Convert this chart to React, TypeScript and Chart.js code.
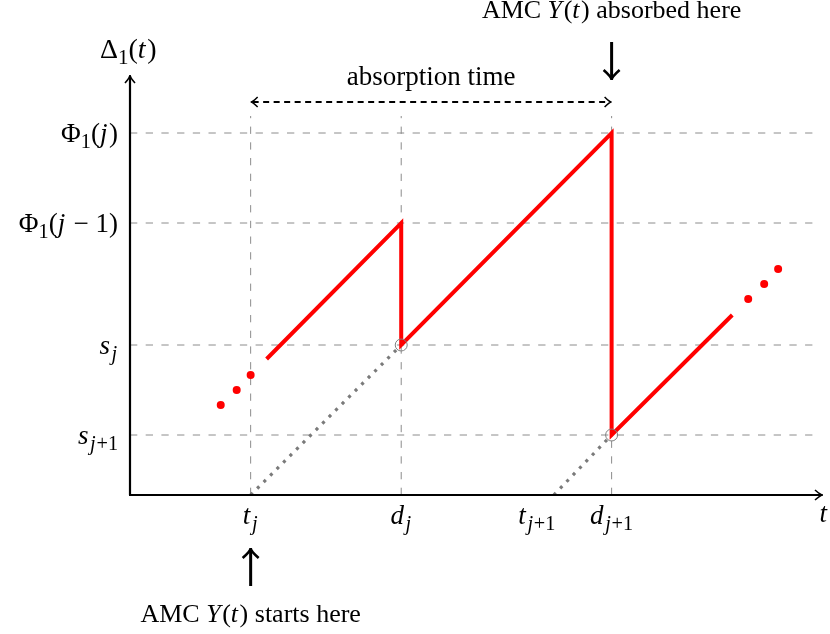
import React, { useEffect, useRef } from "react";
import { Chart, registerables } from "chart.js";

Chart.register(...registerables);

// ---- data (units: abstract time / level) ----
const X_MAX = 695;
const Y_MAX = 420;

const redPathX = [137, 272, 272, 483, 483, 604];
const redPathY = [136, 272, 150, 362, 60, 180];
const redDotsLeftX = [91, 107, 121];
const redDotsLeftY = [90, 105, 120];
const redDotsRightX = [620, 636, 650];
const redDotsRightY = [196, 211, 226];
const grayDot1X = [121, 272];
const grayDot1Y = [0, 150];
const grayDot2X = [425, 483];
const grayDot2Y = [0, 60];
const circleX = [272, 483];
const circleY = [150, 60];

const yTickValues = [362, 272, 150, 60];
const xTickValues = [121, 272, 408, 483];
const xGuideValues = [121, 272, 483];
const guideTop = 379;
const absorptionFrom = 121;
const absorptionTo = 483;
const absorptionLevel = 393;
const startMarkX = 121;
const absorbedMarkX = 483;

type Tok = [string, string];
const yTickLabels: Tok[][] = [
  [["Φ", "r"], ["1", "sr"], ["(", "r"], ["j", "i"], [")", "r"]],
  [["Φ", "r"], ["1", "sr"], ["(", "r"], ["j", "i"], ["\u2005−\u2005", "r"], ["1", "r"], [")", "r"]],
  [["s", "i"], ["j", "si"]],
  [["s", "i"], ["j", "si"], ["+1", "sr"]],
];
const xTickLabels: Tok[][] = [
  [["t", "i"], ["j", "si"]],
  [["d", "i"], ["j", "si"]],
  [["t", "i"], ["j", "si"], ["+1", "sr"]],
  [["d", "i"], ["j", "si"], ["+1", "sr"]],
];
const yAxisTitle: Tok[] = [["Δ", "r"], ["1", "sr"], ["(", "r"], ["t", "i"], [")", "r"]];
const xAxisTitle: Tok[] = [["t", "i"]];
const absorbedText: Tok[] = [["AMC ", "r"], ["Y", "i"], ["(", "r"], ["t", "i"], [") absorbed here", "r"]];
const startsText: Tok[] = [["AMC ", "r"], ["Y", "i"], ["(", "r"], ["t", "i"], [") starts here", "r"]];
const absorptionText: Tok[] = [["absorption time", "r"]];

const FAMILY = '"Liberation Serif", "DejaVu Serif", serif';
const FS = 26;
const MATH_FS = 27;

function fontFor(style: string, size: number) {
  const sub = style.startsWith("s");
  const it = style.endsWith("i");
  const fs = sub ? size * 0.75 : size;
  return `${it ? "italic " : ""}${fs}px ${FAMILY}`;
}

function drawMath(ctx: CanvasRenderingContext2D, toks: Tok[], x: number, y: number, align = "left", size = FS) {
  ctx.save();
  ctx.textBaseline = "alphabetic";
  ctx.textAlign = "left";
  const widths = toks.map(([t, s]) => {
    ctx.font = fontFor(s, size);
    let w = ctx.measureText(t).width;
    if (s === "i") w += size * 0.06;
    if (s === "si") w += size * 0.03;
    return w;
  });
  const total = widths.reduce((a, b) => a + b, 0);
  let cx = align === "center" ? x - total / 2 : align === "right" ? x - total : x;
  toks.forEach(([t, s], i) => {
    ctx.font = fontFor(s, size);
    ctx.fillStyle = "#000";
    const dy = s.startsWith("s") ? size * 0.22 : 0;
    ctx.fillText(t, cx, y + dy);
    cx += widths[i];
  });
  ctx.restore();
}

function chevron(ctx: CanvasRenderingContext2D, tx: number, ty: number, dx: number, dy: number, len: number, half: number) {
  const px = -dy, py = dx;
  ctx.beginPath();
  ctx.moveTo(tx - dx * len + px * half, ty - dy * len + py * half);
  ctx.quadraticCurveTo(tx - dx * len * 0.3, ty - dy * len * 0.3, tx, ty);
  ctx.quadraticCurveTo(tx - dx * len * 0.3, ty - dy * len * 0.3, tx - dx * len - px * half, ty - dy * len - py * half);
  ctx.stroke();
}

const diagramPlugin = {
  id: "diagram",
  beforeDatasetsDraw(chart: any) {
    const { ctx, scales } = chart;
    const X = (v: number) => scales.x.getPixelForValue(v);
    const Y = (v: number) => scales.y.getPixelForValue(v);
    ctx.save();
    ctx.strokeStyle = "#8c8c8c";
    ctx.lineWidth = 1;
    ctx.setLineDash([7.3, 8.4]);
    yTickValues.forEach((v) => {
      ctx.beginPath();
      ctx.moveTo(X(0), Y(v));
      ctx.lineTo(X(X_MAX) - 3, Y(v));
      ctx.stroke();
    });
    xGuideValues.forEach((v) => {
      ctx.beginPath();
      ctx.moveTo(X(v), Y(0));
      ctx.lineTo(X(v), Y(guideTop));
      ctx.stroke();
    });
    ctx.restore();
  },
  afterDraw(chart: any) {
    const { ctx, scales } = chart;
    const X = (v: number) => scales.x.getPixelForValue(v);
    const Y = (v: number) => scales.y.getPixelForValue(v);
    ctx.save();
    ctx.strokeStyle = "#000";
    ctx.lineCap = "butt";
    // axes
    ctx.lineWidth = 2.2;
    ctx.beginPath();
    ctx.moveTo(X(0), Y(0));
    ctx.lineTo(X(0), Y(Y_MAX) + 1);
    ctx.moveTo(X(0) - 1, Y(0));
    ctx.lineTo(X(X_MAX) - 1, Y(0));
    ctx.stroke();
    ctx.lineWidth = 1.6;
    chevron(ctx, X(0), Y(Y_MAX), 0, -1, 8, 5);
    chevron(ctx, X(X_MAX), Y(0), 1, 0, 8, 5);

    // absorption time arrow
    const ay = Y(absorptionLevel);
    ctx.lineWidth = 1.8;
    ctx.setLineDash([6, 4.5]);
    ctx.beginPath();
    ctx.moveTo(X(absorptionFrom) + 2, ay);
    ctx.lineTo(X(absorptionTo) - 2, ay);
    ctx.stroke();
    ctx.setLineDash([]);
    ctx.lineWidth = 1.5;
    chevron(ctx, X(absorptionFrom), ay, -1, 0, 7, 5);
    chevron(ctx, X(absorptionTo), ay, 1, 0, 7, 5);
    drawMath(ctx, absorptionText, (X(absorptionFrom) + X(absorptionTo)) / 2, ay - 17, "center", 27);

    // thick marker arrows
    ctx.lineWidth = 3;
    const dx = X(absorbedMarkX);
    ctx.beginPath();
    ctx.moveTo(dx, Y(Y_MAX) - 33);
    ctx.lineTo(dx, Y(Y_MAX) + 3);
    ctx.stroke();
    ctx.lineWidth = 2.6;
    chevron(ctx, dx, Y(Y_MAX) + 5, 0, 1, 10, 8);
    drawMath(ctx, absorbedText, dx, Y(Y_MAX) - 57, "center");

    const ux = X(startMarkX);
    ctx.lineWidth = 3;
    ctx.beginPath();
    ctx.moveTo(ux, Y(0) + 91);
    ctx.lineTo(ux, Y(0) + 55);
    ctx.stroke();
    ctx.lineWidth = 2.6;
    chevron(ctx, ux, Y(0) + 53, 0, -1, 10, 8);
    drawMath(ctx, startsText, ux, Y(0) + 127, "center");

    // tick labels
    yTickValues.forEach((v, i) => drawMath(ctx, yTickLabels[i], X(0) - 12, Y(v) + 9, "right", MATH_FS));
    xTickValues.forEach((v, i) => drawMath(ctx, xTickLabels[i], X(v), Y(0) + 29, "center", MATH_FS));
    drawMath(ctx, yAxisTitle, X(0) - 30, Y(Y_MAX) - 17, "left", 28);
    drawMath(ctx, xAxisTitle, X(X_MAX) + 1, Y(0) + 27, "center", MATH_FS);
    ctx.restore();
  },
};

const pts = (xs: number[], ys: number[]) => xs.map((x, i) => ({ x, y: ys[i] }));

export default function App() {
  const ref = useRef<HTMLCanvasElement>(null);
  useEffect(() => {
    document.body.style.margin = "0";
    const chart = new Chart(ref.current!, {
      type: "scatter",
      data: {
        datasets: [
          {
            data: pts(circleX, circleY),
            showLine: false,
            pointRadius: 6,
            pointBorderWidth: 1,
            pointBorderColor: "#808080",
            pointBackgroundColor: "rgba(0,0,0,0)",
            order: 0,
          },
          {
            data: pts(redPathX, redPathY),
            showLine: true,
            borderColor: "#ff0000",
            borderWidth: 4,
            borderJoinStyle: "miter",
            pointRadius: 0,
            order: 1,
          },
          {
            data: pts(redDotsLeftX, redDotsLeftY).concat(pts(redDotsRightX, redDotsRightY)),
            showLine: false,
            pointRadius: 4,
            pointBorderWidth: 0,
            pointBackgroundColor: "#ff0000",
            order: 2,
          },
          {
            data: pts(grayDot1X, grayDot1Y),
            showLine: true,
            borderColor: "#7a7a7a",
            borderWidth: 3.2,
            borderDash: [3, 6.2],
            pointRadius: 0,
            order: 3,
          },
          {
            data: pts(grayDot2X, grayDot2Y),
            showLine: true,
            borderColor: "#7a7a7a",
            borderWidth: 3.2,
            borderDash: [3, 6.2],
            pointRadius: 0,
            order: 3,
          },
        ],
      } as any,
      options: {
        animation: false,
        responsive: false,
        events: [],
        layout: { padding: { left: 130, right: 5, top: 75, bottom: 139 } },
        scales: {
          x: { type: "linear", min: 0, max: X_MAX, display: false },
          y: { type: "linear", min: 0, max: Y_MAX, display: false },
        },
        plugins: { legend: { display: false }, tooltip: { enabled: false } },
      } as any,
      plugins: [diagramPlugin],
    });
    return () => chart.destroy();
  }, []);
  return (
    <div style={{ width: 830, height: 634 }}>
      <canvas ref={ref} width={830} height={634} style={{ display: "block" }} />
    </div>
  );
}
